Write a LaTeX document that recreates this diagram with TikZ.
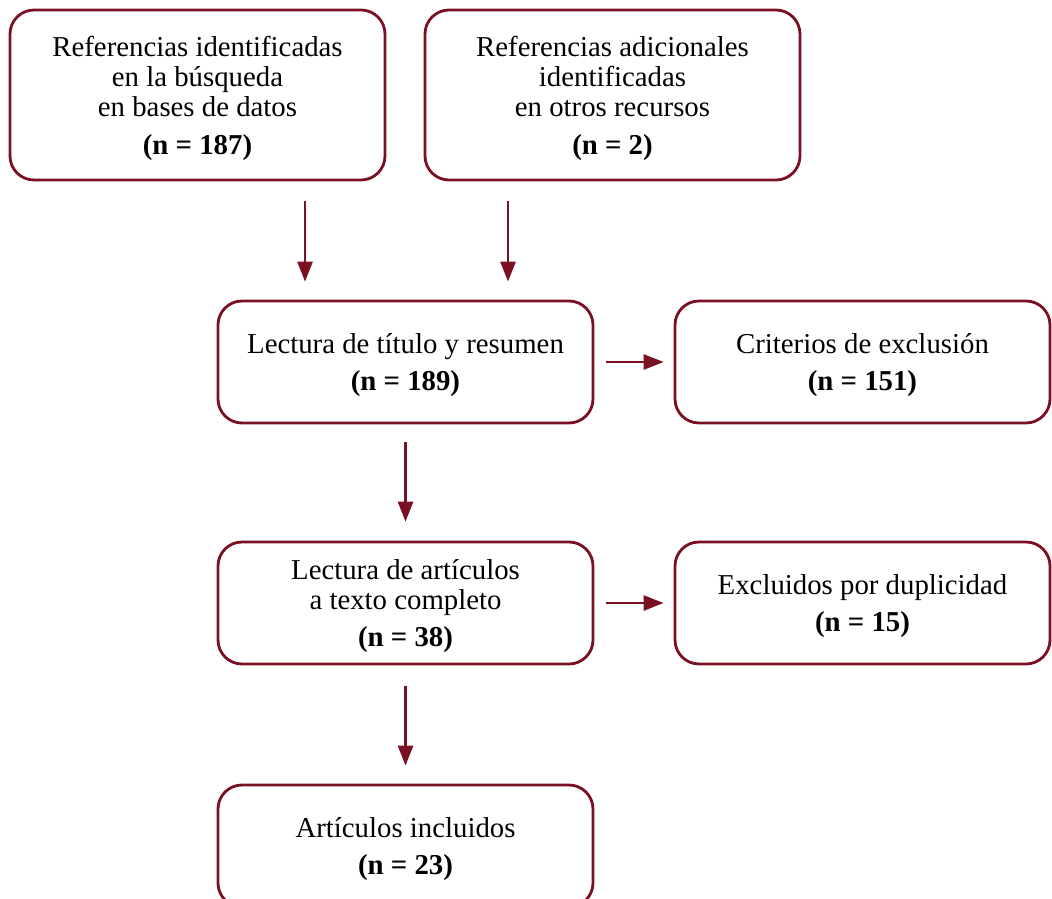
\documentclass[tikz,border=0pt]{standalone}
\usepackage{fontspec}
\setmainfont{Liberation Serif}
\usepackage{xcolor}
\usetikzlibrary{arrows.meta}
\definecolor{vino}{RGB}{122,17,34}
\newcommand{\tope}{\rule{0pt}{27pt}}

\begin{document}
\begin{tikzpicture}[x=1pt, y=-1pt,
            every node/.style={
            inner sep=0pt, align=center, font=\fontsize{28.8}{30}\selectfont}
        ]
        \tikzstyle {caja} = [draw=vino, line width=2.8pt, rounded corners=24pt, minimum width=375pt]
        \tikzstyle {alta} = [caja, minimum height=170pt]
        \tikzstyle {baja} = [caja, minimum height=122pt]
        \tikzstyle {flecha} = [-{Triangle[length=20pt,width=15pt]}, draw=vino, line width=2.8pt]

        \useasboundingbox (0,0) rectangle (1052,899);
        \clip (0,0) rectangle (1052,899);

        \node [alta] (bd) at (197.5,95) {\tope Referencias identificadas\\en la búsqueda\\en bases de datos\\[8pt]\textbf{(n = 187)}};
        \node [alta] (otros) at (612.5,95) {\tope Referencias adicionales\\identificadas\\en otros recursos\\[8pt]\textbf{(n = 2)}};
        \node [baja] (titulo) at (405.5,362) {\tope Lectura de título y resumen\\[7pt]\textbf{(n = 189)}};
        \node [baja] (criterios) at (862.5,362) {\tope Criterios de exclusión\\[7pt]\textbf{(n = 151)}};
        \node [baja] (texto) at (405.5,603) {\tope Lectura de artículos\\a texto completo\\[7pt]\textbf{(n = 38)}};
        \node [baja] (duplic) at (862.5,603) {\tope Excluidos por duplicidad\\[7pt]\textbf{(n = 15)}};
        \node [baja] (incl) at (405.5,846) {\tope Artículos incluidos\\[7pt]\textbf{(n = 23)}};

        \coordinate (izq) at (305,0);
        \coordinate (der) at (508,0);

        \draw [flecha, shorten <=20pt, shorten >=18pt] (bd.south -| izq) -- (titulo.north -| izq);
        \draw [flecha, shorten <=20pt, shorten >=18pt] (otros.south -| der) -- (titulo.north -| der);
        \draw [flecha, shorten <=12pt, shorten >=10pt] (titulo.east) -- (criterios.west);
        \draw [flecha, shorten <=18pt, shorten >=19pt] (titulo) -- (texto);
        \draw [flecha, shorten <=12pt, shorten >=10pt] (texto.east) -- (duplic.west);
        \draw [flecha, shorten <=21pt, shorten >=18pt] (texto) -- (incl);

\end{tikzpicture}
\end{document}
